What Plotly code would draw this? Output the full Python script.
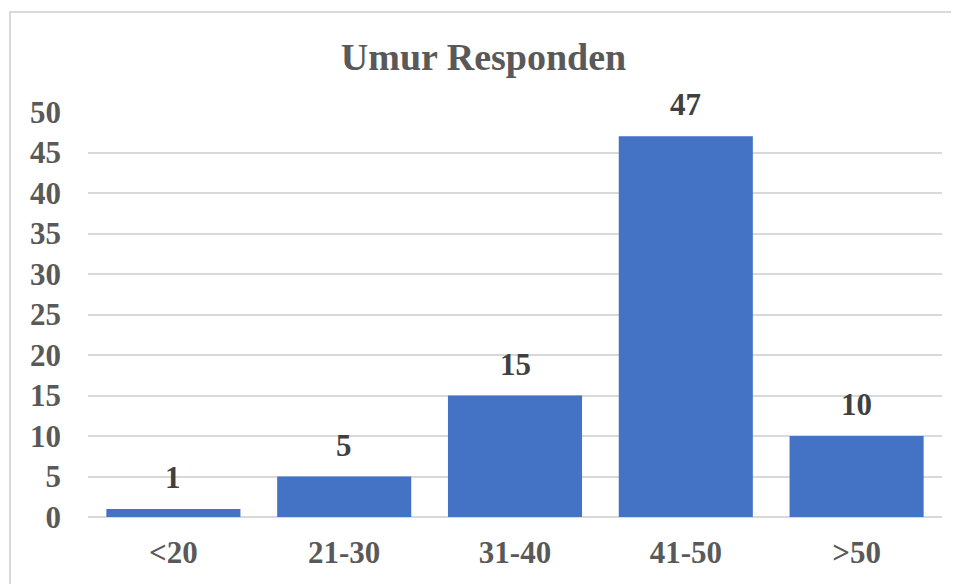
import plotly.graph_objects as go

categories = ["<20", "21-30", "31-40", "41-50", ">50"]
values = [1, 5, 15, 47, 10]
y_ticks = [0, 5, 10, 15, 20, 25, 30, 35, 40, 45, 50]

FONT = "Liberation Serif, Times New Roman, serif"
GRAY = "#595959"

fig = go.Figure()
fig.add_trace(go.Bar(
    x=categories, y=values,
    marker=dict(color="#4472C4", line=dict(width=0)),
    hoverinfo="skip",
))

for c, v in zip(categories, values):
    fig.add_annotation(
        x=c, y=v, text=str(v), showarrow=False,
        yanchor="bottom", yshift=12,
        font=dict(family=FONT, size=31, color="#404040", weight="bold"),
    )

fig.update_layout(
    width=951, height=576,
    margin=dict(l=80, r=17, t=104, b=67),
    paper_bgcolor="white", plot_bgcolor="white",
    bargap=0.215,
    showlegend=False,
    title=dict(
        text="Umur Responden", x=0.5, xanchor="center",
        y=0.915, yanchor="middle",
        font=dict(family=FONT, size=38, color=GRAY, weight="bold"),
    ),
    xaxis=dict(
        showgrid=False, showline=False, zeroline=False,
        tickfont=dict(family=FONT, size=31, color=GRAY, weight="bold"),
        ticks="", ticklabelstandoff=14,
    ),
    yaxis=dict(
        range=[0, 50], tickvals=y_ticks,
        showgrid=True, gridcolor="#d9d9d9", gridwidth=1.5,
        zeroline=True, zerolinecolor="#d9d9d9", zerolinewidth=1.5,
        showline=False,
        tickfont=dict(family=FONT, size=31, color=GRAY, weight="bold"),
        ticks="", ticklabelstandoff=26,
    ),
)

fig.add_shape(
    type="rect", xref="paper", yref="paper",
    x0=-0.0913, x1=1.05, y0=-0.25, y1=1.247,
    line=dict(color="#d9d9d9", width=2), fillcolor="rgba(0,0,0,0)",
    layer="below",
)

fig.write_html("out.html")
